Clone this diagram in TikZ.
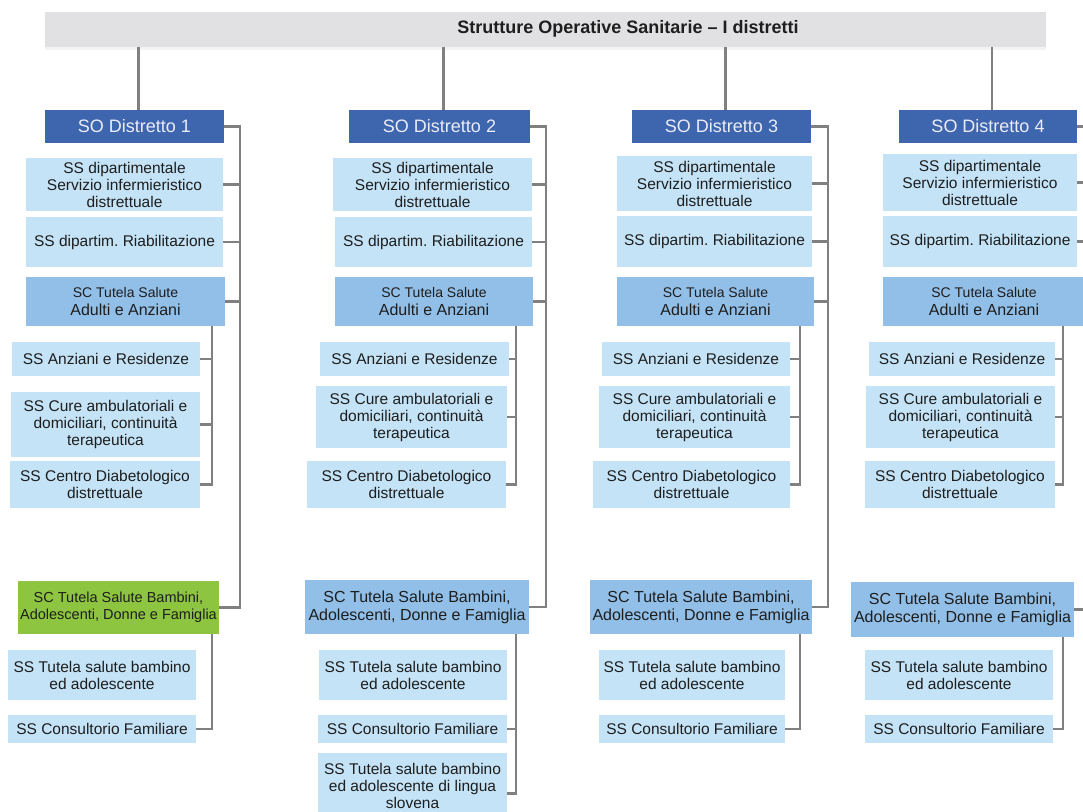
\documentclass[tikz,border=0pt]{standalone}
\usepackage{fontspec}
\setmainfont{Liberation Sans}
\usepackage{xcolor}
\definecolor{bargray}{RGB}{225,225,228}
\definecolor{linegray}{RGB}{128,128,128}
\definecolor{soblue}{RGB}{61,102,174}
\definecolor{sotext}{RGB}{236,236,246}
\definecolor{scblue}{RGB}{146,191,231}
\definecolor{ssblue}{RGB}{196,227,246}
\definecolor{sogreen}{RGB}{141,197,64}
\definecolor{textdark}{RGB}{30,30,30}
\usepackage{tikz}
\frenchspacing

\begin{document}
\begin{tikzpicture}[x=1pt, y=-1pt,
    conn/.style={draw=linegray, line width=2.8pt},
    sobox/.style={fill=soblue, inner sep=0pt, text=sotext,
                  font=\fontsize{18}{20}\selectfont, minimum height=33pt},
    ssbox/.style={fill=ssblue, inner sep=0pt, align=center, text=textdark,
                  font=\fontsize{15.5}{17}\selectfont},
    scbox/.style={fill=scblue, inner sep=0pt, align=center, text=textdark,
                  font=\fontsize{16}{18}\selectfont},
    small/.style={font=\fontsize{14.5}{17}\selectfont}]
  \useasboundingbox (0,0) rectangle (1083,811);
  \clip (0,0) rectangle (1083,811);

  % Title bar
  \node[fill=bargray, inner sep=0pt, minimum width=1001pt,
        minimum height=35pt] (top) at (545.5,29.5) {};
  \fill[bargray!40] (top.south west) rectangle ([yshift=-3pt]top.south east);
  \node[text=textdark, font=\bfseries\fontsize{18}{20}\selectfont] (toptxt)
        at (628,29) {Strutture Operative Sanitarie -- I distretti};

  % District heads
  \node[sobox, minimum width=179pt] (d1) at (134.5,126.5) {SO Distretto 1};
  \node[sobox, minimum width=181pt] (d2) at (439.5,126.5) {SO Distretto 2};
  \node[sobox, minimum width=179pt] (d3) at (721.5,126.5) {SO Distretto 3};
  \node[sobox, minimum width=178pt] (d4) at (988,126.5) {SO Distretto 4};

  % Distretto 1
  \node[ssbox, minimum width=197pt, minimum height=53pt] (d1a) at (124.5,184.5)
        {SS dipartimentale\\Servizio infermieristico\\distrettuale};
  \node[ssbox, minimum width=197pt, minimum height=50pt] (d1b) at (124.5,242)
        {SS dipartim. Riabilitazione};
  \node[scbox, minimum width=199pt, minimum height=49pt] (d1c) at (125.5,301.5)
        {{\fontsize{14}{17}\selectfont SC Tutela Salute}\\Adulti e Anziani};
  \node[ssbox, minimum width=188pt, minimum height=34pt] (d1c1) at (106,359)
        {SS Anziani e Residenze};
  \node[ssbox, minimum width=189pt, minimum height=65pt] (d1c2) at (105.5,424.5)
        {SS Cure ambulatoriali e\\domiciliari, continuità\\terapeutica};
  \node[ssbox, minimum width=190pt, minimum height=47pt] (d1c3) at (105,484.5)
        {SS Centro Diabetologico\\distrettuale};
  \node[scbox, small, fill=sogreen, minimum width=201pt, minimum height=53pt] (d1d)
        at (118.5,607.5) {SC Tutela Salute Bambini,\\Adolescenti, Donne e Famiglia};
  \node[ssbox, minimum width=188pt, minimum height=50pt] (d1d1) at (102,675)
        {SS Tutela salute bambino\\ed adolescente};
  \node[ssbox, minimum width=188pt, minimum height=28pt] (d1d2) at (102,729)
        {SS Consultorio Familiare};

  % Distretto 2
  \node[ssbox, minimum width=199pt, minimum height=53pt] (d2a) at (432.5,184.5)
        {SS dipartimentale\\Servizio infermieristico\\distrettuale};
  \node[ssbox, minimum width=197pt, minimum height=50pt] (d2b) at (433.5,242)
        {SS dipartim. Riabilitazione};
  \node[scbox, minimum width=198pt, minimum height=49pt] (d2c) at (434,301.5)
        {{\fontsize{14}{17}\selectfont SC Tutela Salute}\\Adulti e Anziani};
  \node[ssbox, minimum width=189pt, minimum height=34pt] (d2c1) at (414.5,359)
        {SS Anziani e Residenze};
  \node[ssbox, minimum width=191pt, minimum height=62pt] (d2c2) at (411.5,417)
        {SS Cure ambulatoriali e\\domiciliari, continuità\\terapeutica};
  \node[ssbox, minimum width=199pt, minimum height=47pt] (d2c3) at (406.5,484.5)
        {SS Centro Diabetologico\\distrettuale};
  \node[scbox, minimum width=224pt, minimum height=54pt] (d2d) at (417,607)
        {SC Tutela Salute Bambini,\\Adolescenti, Donne e Famiglia};
  \node[ssbox, minimum width=188pt, minimum height=50pt] (d2d1) at (413,675)
        {SS Tutela salute bambino\\ed adolescente};
  \node[ssbox, minimum width=189pt, minimum height=28pt] (d2d2) at (412.5,729)
        {SS Consultorio Familiare};
  \node[ssbox, minimum width=189pt, minimum height=65pt] (d2d3) at (412.5,785.5)
        {SS Tutela salute bambino\\ed adolescente di lingua\\slovena};

  % Distretto 3
  \node[ssbox, minimum width=195pt, minimum height=55pt] (d3a) at (714.5,183.5)
        {SS dipartimentale\\Servizio infermieristico\\distrettuale};
  \node[ssbox, minimum width=195pt, minimum height=51pt] (d3b) at (714.5,241.5)
        {SS dipartim. Riabilitazione};
  \node[scbox, minimum width=197pt, minimum height=49pt] (d3c) at (715.5,301.5)
        {{\fontsize{14}{17}\selectfont SC Tutela Salute}\\Adulti e Anziani};
  \node[ssbox, minimum width=188pt, minimum height=34pt] (d3c1) at (696,359)
        {SS Anziani e Residenze};
  \node[ssbox, minimum width=191pt, minimum height=62pt] (d3c2) at (694.5,417)
        {SS Cure ambulatoriali e\\domiciliari, continuità\\terapeutica};
  \node[ssbox, minimum width=197pt, minimum height=47pt] (d3c3) at (691.5,484.5)
        {SS Centro Diabetologico\\distrettuale};
  \node[scbox, minimum width=222pt, minimum height=54pt] (d3d) at (701,607)
        {SC Tutela Salute Bambini,\\Adolescenti, Donne e Famiglia};
  \node[ssbox, minimum width=186pt, minimum height=50pt] (d3d1) at (692,675)
        {SS Tutela salute bambino\\ed adolescente};
  \node[ssbox, minimum width=186pt, minimum height=28pt] (d3d2) at (692,729)
        {SS Consultorio Familiare};

  % Distretto 4
  \node[ssbox, minimum width=194pt, minimum height=57pt] (d4a) at (980,182.5)
        {SS dipartimentale\\Servizio infermieristico\\distrettuale};
  \node[ssbox, minimum width=194pt, minimum height=51pt] (d4b) at (980,241.5)
        {SS dipartim. Riabilitazione};
  \node[scbox, minimum width=202pt, minimum height=49pt] (d4c) at (984,301.5)
        {{\fontsize{14}{17}\selectfont SC Tutela Salute}\\Adulti e Anziani};
  \node[ssbox, minimum width=186pt, minimum height=34pt] (d4c1) at (962,359)
        {SS Anziani e Residenze};
  \node[ssbox, minimum width=189pt, minimum height=62pt] (d4c2) at (960.5,417)
        {SS Cure ambulatoriali e\\domiciliari, continuità\\terapeutica};
  \node[ssbox, minimum width=190pt, minimum height=47pt] (d4c3) at (960,484.5)
        {SS Centro Diabetologico\\distrettuale};
  \node[scbox, minimum width=223pt, minimum height=55pt] (d4d) at (962.5,609.5)
        {SC Tutela Salute Bambini,\\Adolescenti, Donne e Famiglia};
  \node[ssbox, minimum width=188pt, minimum height=50pt] (d4d1) at (959,675)
        {SS Tutela salute bambino\\ed adolescente};
  \node[ssbox, minimum width=188pt, minimum height=28pt] (d4d2) at (959,729)
        {SS Consultorio Familiare};

  % Connectors: main spine s, sub spines t
  \foreach \i/\sx/\tx in {1/240/212, 2/546/516, 3/828/800, 4/1095/1063} {
    \coordinate (s\i) at (\sx,0);
    \coordinate (t\i) at (\tx,0);
    \draw[conn] ([xshift=4pt]top.south -| d\i.north) -- ([xshift=4pt]d\i.north);
    \draw[conn] (d\i.east) -- (d\i.east -| s\i) -- (d\i d.east -| s\i) -- (d\i d.east);
    \foreach \n in {a,b,c}
      \draw[conn] (d\i\n.east) -- (d\i\n.east -| s\i);
    \draw[conn] (d\i c.south -| t\i) -- (d\i c3.east -| t\i) -- (d\i c3.east);
    \foreach \n in {c1,c2}
      \draw[conn] (d\i\n.east) -- (d\i\n.east -| t\i);
    \draw[conn] (d\i d.south -| t\i) -- (d\i d2.east -| t\i) -- (d\i d2.east);
  }
  \draw[conn] (d2d2.east -| t2) -- ([yshift=-8pt]d2d3.east -| t2) -- ([yshift=-8pt]d2d3.east);
\end{tikzpicture}
\end{document}
